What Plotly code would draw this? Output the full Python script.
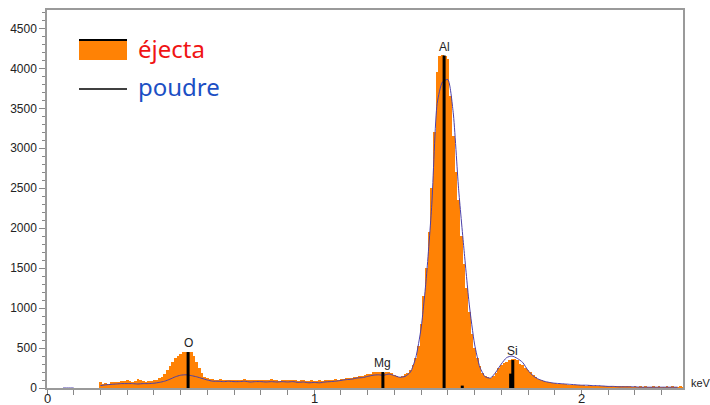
import numpy as np
import plotly.graph_objects as go

# ---- EDS spectrum (keV, counts) ----
# ejecta: histogram, 0.01 keV channels from 0.20 keV
ejecta_start = 0.20
ejecta_step = 0.01
ejecta_counts = [
    70, 45, 60, 55, 70, 75, 80, 70, 85, 90,
    95, 85, 80, 90, 110, 95, 85, 80, 90, 85,
    95, 105, 120, 140, 175, 225, 270, 320, 375, 405,
    425, 450, 455, 455, 450, 400, 330, 250, 190, 140,
    125, 115, 110, 105, 100, 110, 105, 100, 95, 105,
    100, 105, 95, 100, 110, 100, 95, 105, 100, 95,
    105, 100, 95, 100, 110, 100, 95, 90, 100, 95,
    100, 105, 95, 100, 90, 95, 100, 90, 85, 95,
    90, 85, 95, 90, 100, 95, 100, 105, 110, 105,
    115, 110, 120, 125, 130, 135, 140, 150, 155, 165,
    175, 180, 205, 205, 205, 205, 190, 200, 205, 185,
    160, 145, 140, 150, 170, 185, 230, 290, 380, 520,
    800, 1150, 1500, 1950, 2500, 3200, 3950, 4150, 4170, 4160,
    4120, 3650, 3150, 2700, 2350, 1900, 1550, 1250, 950, 680,
    500, 380, 270, 190, 150, 135, 130, 150, 190, 250,
    290, 310, 330, 350, 360, 360, 345, 300, 290, 250,
    230, 200, 165, 140, 115, 100, 90, 80, 70, 65,
    60, 55, 50, 45, 45, 40, 40, 35, 35, 40,
    35, 35, 30, 35, 30, 30, 30, 25, 30, 25,
    20, 20, 15, 15, 20, 15, 15, 15, 20, 10,
    15, 10, 15, 10, 20, 10, 10, 25, 10, 15,
    10, 10, 15, 10, 20, 10, 10, 15, 10,
]
ejecta_energy = [round(ejecta_start + i * ejecta_step, 3) for i in range(len(ejecta_counts))]

# poudre: reference spectrum, 0.02 keV points from 0.20 keV
poudre_start = 0.20
poudre_step = 0.02
poudre_counts = [
    30, 40, 45, 50, 55, 55, 55, 50, 55, 55,
    60, 70, 85, 110, 140, 160, 165, 155, 140, 120,
    100, 85, 85, 80, 85, 80, 80, 85, 75, 80,
    80, 75, 80, 75, 80, 75, 80, 70, 75, 65,
    70, 65, 75, 80, 85, 95, 105, 110, 125, 130,
    145, 160, 165, 160, 175, 155, 135, 145, 200, 380,
    750, 1400, 2300, 3560, 3830, 3860, 3450, 2500, 1750, 1050,
    550, 260, 140, 125, 200, 300, 380, 400, 370, 320,
    220, 150, 110, 85, 70, 60, 55, 50, 45, 40,
    35, 35, 30, 30, 25, 20, 20, 15, 15, 15,
    15, 10, 10, 10, 10, 10, 10, 10, 10,
]
poudre_energy = [round(poudre_start + i * poudre_step, 3) for i in range(len(poudre_counts))]
# short flat stretch at low energy
poudre_low_energy = [0.06, 0.08, 0.10]
poudre_low_counts = [0, 0, 0]

# ---- characteristic lines ----
line_energy = [0.528, 1.257, 1.486, 1.743, 1.735, 1.554]
line_height = [450, 200, 4160, 350, 180, 30]
line_label = ["O", "Mg", "Al", "Si", "", ""]

# ---- axes ----
x_range = [0, 2.38]
y_range = [0, 4730]
y_tickvals = [0, 500, 1000, 1500, 2000, 2500, 3000, 3500, 4000, 4500]
x_tickvals = [0, 1, 2]

ORANGE = "#ff8205"
LINE_BLUE = "#4a3fa8"

fig = go.Figure()

fig.add_trace(go.Bar(
    x=ejecta_energy, y=ejecta_counts, width=ejecta_step,
    marker=dict(color=ORANGE, line=dict(width=0)),
    name="éjecta", showlegend=False,
))

fig.add_trace(go.Scatter(
    x=poudre_low_energy + [None] + poudre_energy,
    y=poudre_low_counts + [None] + poudre_counts,
    mode="lines", line=dict(color=LINE_BLUE, width=1, shape="spline", smoothing=0.6),
    name="poudre", showlegend=False, connectgaps=False,
))

# element marker lines
lx, ly = [], []
for e, h in zip(line_energy, line_height):
    lx += [e, e, None]
    ly += [0, h, None]
fig.add_trace(go.Scatter(x=lx, y=ly, mode="lines",
                         line=dict(color="black", width=3), showlegend=False))

for e, h, lab in zip(line_energy, line_height, line_label):
    if lab:
        fig.add_annotation(x=e, y=h, text=lab, showarrow=False,
                           xanchor="center", yanchor="bottom", yshift=0,
                           font=dict(family="Liberation Sans", size=12, color="#222"))

# x tick labels sit tight under the axis
for v in x_tickvals:
    fig.add_annotation(x=v, xref="x", y=0, yref="paper", text=str(v),
                       showarrow=False, xanchor="center", yanchor="top", yshift=-1,
                       font=dict(family="Liberation Sans", size=13, color="#222"))

# legend and unit label positioned in pixels, converted to paper coords
W, H = 710, 405
ml, mr, mt, mb = 47, 27, 10, 17
pw, ph = W - ml - mr, H - mt - mb

def px(x):
    return (x - ml) / pw

def py(y):
    return (H - mb - y) / ph

fig.add_annotation(xref="paper", yref="paper", x=px(689), y=py(383), text="keV",
                   showarrow=False, xanchor="left", yanchor="middle",
                   font=dict(family="Liberation Sans", size=11, color="#222"))

fig.add_shape(type="rect", xref="paper", yref="paper",
              x0=px(79), x1=px(127), y0=py(60), y1=py(40),
              fillcolor=ORANGE, line=dict(width=0))
fig.add_shape(type="line", xref="paper", yref="paper",
              x0=px(79), x1=px(127), y0=py(40), y1=py(40),
              line=dict(color="black", width=2))
fig.add_shape(type="line", xref="paper", yref="paper",
              x0=px(79), x1=px(127), y0=py(89), y1=py(89),
              line=dict(color="black", width=1.5))
fig.add_annotation(xref="paper", yref="paper", x=px(136), y=py(49),
                   text="éjecta", showarrow=False, xanchor="left", yanchor="middle",
                   font=dict(family="Noto Sans", size=24, color="#f01414"))
fig.add_annotation(xref="paper", yref="paper", x=px(136), y=py(86),
                   text="poudre", showarrow=False, xanchor="left", yanchor="middle",
                   font=dict(family="Noto Sans", size=24, color="#1c4fc4"))

fig.update_layout(
    width=W, height=H, autosize=False,
    margin=dict(l=ml, r=mr, t=mt, b=mb, autoexpand=False),
    paper_bgcolor="white", plot_bgcolor="white",
    bargap=0, showlegend=False,
    font=dict(family="Liberation Sans", size=12, color="#222"),
)
fig.update_xaxes(
    range=x_range, tickvals=x_tickvals, showticklabels=False,
    showgrid=False, zeroline=False, automargin=False,
    showline=True, linecolor="#9a9a9a", linewidth=1.5, mirror=True,
    ticks="outside", ticklen=5, tickcolor="#888", tickwidth=1,
    minor=dict(dtick=0.1, tick0=0, ticks="outside", ticklen=5, tickcolor="#888", showgrid=False),
)
fig.update_yaxes(
    range=y_range, tickvals=y_tickvals, showgrid=False, zeroline=False, automargin=False,
    showline=True, linecolor="#9a9a9a", linewidth=1.5, mirror=True,
    ticks="outside", ticklen=6, tickcolor="#888", tickwidth=1,
    minor=dict(dtick=100, tick0=0, ticks="outside", ticklen=3, tickcolor="#888", showgrid=False),
    tickfont=dict(size=12, color="#222"),
)

fig.write_html("out.html")
